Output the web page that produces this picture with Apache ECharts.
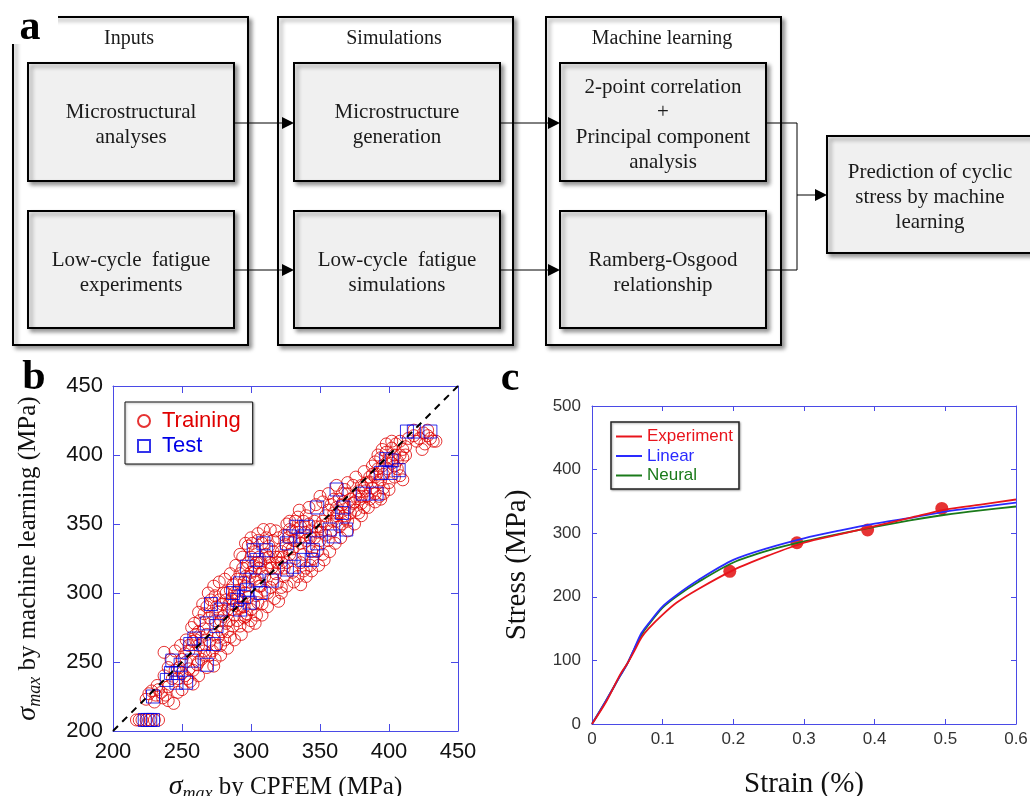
<!DOCTYPE html>
<html>
<head>
<meta charset="utf-8">
<script src="https://cdn.jsdelivr.net/npm/echarts@6/dist/echarts.min.js"></script>
<style>
  html, body { margin: 0; padding: 0; background: #fff; }
  #chart { width: 1030px; height: 796px; }
</style>
</head>
<body>
<div id="chart"></div>
<script>
// ---- panel a: flowchart labels ----
const stageTitles = ["Inputs", "Simulations", "Machine learning"];
const stageBoxes = [
  ["Microstructural\nanalyses", "Low-cycle  fatigue\nexperiments"],
  ["Microstructure\ngeneration", "Low-cycle  fatigue\nsimulations"],
  ["2-point correlation\n+\nPrincipal component\nanalysis", "Ramberg-Osgood\nrelationship"],
];
const outputLabel = "Prediction of cyclic\nstress by machine\nlearning";

// ---- panel b: sigma_max, CPFEM (x) vs machine learning (y) ----
const trainingPts = [
  [217,208],[219,208],[221,208],[224,208],[227,208],[230,208],[233,208],
  [224,223],[226,227],[228,229],[231,226],[233,230],[235,228],[230,221],[236,224],[238,226],[240,222],[244,220],[232,233],[240,232],[237,240],
  [237,257],[242,252],[240,246],[245,244],[248,246],[250,242],[252,240],[254,238],[256,236],[258,234],[243,238],[247,238],[250,252],[252,256],[255,258],[253,250],[258,244],[262,240],[247,228],[250,230],
  [255,262],[258,265],[260,270],[262,272],[264,268],[266,274],[268,270],[270,265],[272,258],[274,252],[270,255],[266,258],[262,262],[260,258],[264,252],[268,246],[261,248],[270,282],[272,285],[274,280],[276,286],[278,280],[280,283],[282,278],[279,272],[276,268],[283,272],[285,268],[266,285],[268,290],[271,295],[274,298],[277,295],[280,300],[282,295],[284,292],[286,288],[288,284],[290,280],[292,276],[295,282],[287,276],[278,262],[281,266],[257,275],[263,280],[260,266],[273,270],[275,262],[284,280],[289,291],[292,289],[296,283],
  [285,302],[287,306],[288,300],[290,310],[292,314],[294,318],[296,312],[298,308],[300,315],[302,320],[304,322],[306,318],[308,315],[310,325],[300,326],[298,322],[303,330],[305,338],[308,336],[311,340],[313,334],[316,330],[318,326],[314,322],[312,318],[310,312],[306,305],[304,298],[302,292],[300,288],[297,285],[295,290],[293,295],[291,298],[300,280],[304,284],[308,292],[312,300],[314,304],[316,310],[318,314],[320,318],[322,322],[296,300],[305,293],[307,305],[310,302],[282,300],[286,296],[319,307],[320,294],[322,304],[324,312],[294,326],[298,334],[301,336],[296,305],[316,338],[313,326],[303,310],[298,297],[306,326],
  [322,330],[325,335],[327,340],[330,345],[332,352],[334,355],[336,348],[338,352],[340,356],[342,350],[344,345],[346,340],[348,344],[350,348],[352,352],[354,356],[356,360],[358,364],[360,368],[347,364],[352,366],[348,330],[345,325],[343,320],[340,318],[336,322],[332,325],[328,328],[326,322],[324,318],[330,315],[334,312],[338,316],[344,330],[350,338],[354,342],[358,345],[336,336],[340,338],[332,338],[328,346],[326,350],[362,352],[364,348],[366,350],[368,354],[356,338],[352,328],[330,332],[338,328],[342,334],[346,352],[360,358],[334,344],[320,326],
  [362,362],[364,368],[366,372],[368,375],[370,372],[372,368],[374,365],[376,370],[378,374],[380,378],[382,376],[384,380],[386,384],[388,386],[390,384],[392,380],[388,376],[384,370],[380,365],[376,360],[372,358],[368,356],[370,352],[378,358],[382,362],[386,368],[390,372],[393,370],[396,376],[394,382],[392,390],[390,395],[392,400],[395,404],[398,402],[400,396],[402,394],[404,392],[406,390],[408,385],[410,382],[404,384],[400,380],[396,386],[366,364],[362,356],[374,378],[380,370],[394,368],
  [402,405],[405,408],[408,400],[410,398],[412,400],[410,404],[406,396],[414,412],[418,414],[422,412],[425,416],[428,414],[430,412],[432,410],[434,410],[426,408],[420,410],[424,404],[428,418],[418,418],[412,406],[404,400],[408,410],
  [245,258],[249,262],[253,266],[259,278],[262,286],[265,292],[269,300],[273,305],[277,308],[281,310],[285,314],[289,320],[292,328],[296,336],[300,340],[305,343],[309,346],[314,346],[320,340],
  [255,245],[262,250],[267,255],[273,247],[278,255],[283,260],[288,266],[293,270],[298,276],[303,278],[308,284],[312,290],[317,296],[322,300],[326,305],[331,308],[336,306],[340,312],[344,316],[349,320],[353,324],[357,330],[361,336],[365,340],[370,345],[375,350],[380,356],[385,362],[390,366],[396,372],[400,375],
  [275,290],[279,292],[283,288],[287,292],[291,302],[295,308],[299,312],[303,316],[307,322],[311,328],[315,318],[319,322],[323,326],[327,332],[331,338],[335,340],[339,344],[343,340],[347,348],[351,344],[355,350],[359,352],[363,358],[367,366],[371,362],[375,366],[379,368],[383,374],[387,380],[391,386],[395,392],[399,390],[403,397],
  [318,345],[324,342],[328,352],[335,360],[342,362],[350,370],[356,372],[362,378],[370,380],[376,384],[382,388],[388,392],[394,398],[398,408],[402,410],
];
const testPts = [
  [223,208],[225,208],[227,208],[229,208],
  [229,225],
  [239,237],[246,235],[253,235],[242,242],[247,242],[243,251],[249,248],
  [256,263],[259,267],[257,251],[268,248],[266,263],[273,263],[268,278],[275,276],[271,292],[278,288],
  [287,300],[292,288],[299,293],[290,295],[295,297],[297,302],[292,307],[307,300],[297,319],[304,309],[315,309],
  [302,331],[304,324],[309,336],[311,331],
  [326,317],[331,319],[338,324],[344,324],[345,331],[326,336],[328,341],[338,341],[333,348],[340,348],[348,336],[348,362],
  [357,346],[360,341],[369,346],[366,358],[367,362],[362,375],
  [381,372],[391,372],[394,387],[401,387],[407,389],[398,397],[402,396],
  [413,417],[418,417],[430,417],
];
const parityRange = [200, 450];
const bTicks = { min: 200, max: 450, step: 50 };

// ---- panel c: stress-strain curves ----
const strain = [0, 0.02, 0.04, 0.05, 0.06, 0.07, 0.08, 0.1, 0.12, 0.15, 0.2, 0.25, 0.3, 0.35, 0.4, 0.45, 0.5, 0.55, 0.6];
const experimentStress = [0, 35, 78, 95, 115, 136, 150, 172, 191, 212, 242, 265, 285, 298, 311, 324, 337, 345, 353];
const linearStress =     [0, 37, 76, 95, 119, 143, 158, 185, 203, 226, 258, 277, 292, 304, 315, 324, 334, 341, 348];
const neuralStress =     [0, 37, 76, 95, 118, 140, 156, 183, 201, 223, 254, 273, 287, 299, 310, 320, 329, 336, 342];
const measuredPts = [[0.195, 240], [0.29, 285], [0.39, 305], [0.495, 339]];

const serif = "'Liberation Serif', 'Times New Roman', serif";
const sans = "'Liberation Sans', Arial, sans-serif";
const frameBlue = "#4a4ae6";
const red = "#e00000";
const blue = "#0000e6";
const expColor = "#e8141c";
const linColor = "#2a2aff";
const neuColor = "#1a7a1a";
const lineIcon = "path://M0,0H26V2H0Z";

function shadowed(fill) {
  return {
    fill: fill, stroke: "#000", lineWidth: 2,
    shadowBlur: 4, shadowOffsetX: 3, shadowOffsetY: 3, shadowColor: "rgba(0,0,0,0.4)",
  };
}

function label(text, x, y, size, extra) {
  return {
    type: "text", x: x, y: y,
    style: Object.assign({
      text: text, fontSize: size, fontFamily: serif, fill: "#1a1a1a",
      align: "center", verticalAlign: "middle", textAlign: "center", textVerticalAlign: "middle",
      lineHeight: 25,
    }, extra || {}),
  };
}

function arrowHead(x, y) {
  return { type: "polygon", shape: { points: [[x - 12, y - 6], [x, y], [x - 12, y + 6]] }, style: { fill: "#000" } };
}

function link(x1, y1, x2, y2) {
  return { type: "line", shape: { x1: x1, y1: y1, x2: x2, y2: y2 }, style: { stroke: "#000", lineWidth: 1 } };
}

function buildFlowchart() {
  const els = [];
  const stageLeft = [13, 278, 546];
  const innerLeft = [28, 294, 560];
  const rowTop = [63, 211];
  const rowH = [118, 117];
  const rowMid = [123, 270];
  stageTitles.forEach((title, i) => {
    els.push({ type: "rect", shape: { x: stageLeft[i], y: 17, width: 235, height: 328 }, style: shadowed("#fff") });
    els.push(label(title, stageLeft[i] + 116, 39, 20));
    stageBoxes[i].forEach((txt, j) => {
      els.push({ type: "rect", shape: { x: innerLeft[i], y: rowTop[j], width: 206, height: rowH[j] }, style: shadowed("#f0f0f0") });
      els.push(label(txt, innerLeft[i] + 103, rowTop[j] + rowH[j] / 2 + 3, 21));
    });
  });
  // arrows between stages
  for (let i = 0; i < 2; i++) {
    rowMid.forEach((y) => {
      els.push(link(innerLeft[i] + 206, y, innerLeft[i + 1] - 6, y));
      els.push(arrowHead(innerLeft[i + 1], y));
    });
  }
  // merge into output box
  els.push(link(767, 123, 797, 123));
  els.push(link(767, 270, 797, 270));
  els.push(link(797, 123, 797, 270));
  els.push(link(797, 195, 821, 195));
  els.push(arrowHead(827, 195));
  els.push({ type: "rect", shape: { x: 827, y: 136, width: 220, height: 117 }, style: shadowed("#f0f0f0") });
  els.push(label(outputLabel, 930, 197, 21));
  // panel letters
  els.push({ type: "rect", shape: { x: 0, y: 0, width: 58, height: 44 }, style: { fill: "#fff" } });
  els.push(label("a", 30, 28, 42, { fontWeight: "bold", fill: "#000" }));
  els.push(label("b", 34, 378, 42, { fontWeight: "bold", fill: "#000" }));
  els.push(label("c", 510, 379, 42, { fontWeight: "bold", fill: "#000" }));
  return els;
}

const sigmaRich = {
  s: { fontFamily: serif, fontStyle: "italic", fontSize: 28, lineHeight: 32, verticalAlign: "middle", color: "#111" },
  m: { fontFamily: serif, fontStyle: "italic", fontSize: 18, lineHeight: 15, verticalAlign: "bottom", color: "#111" },
  t: { fontFamily: serif, fontSize: 25, lineHeight: 32, verticalAlign: "middle", color: "#111" },
};

function frameAxis(gridIndex, position, range, tickLen, labelStyle) {
  return {
    type: "value", gridIndex: gridIndex, position: position,
    min: range.min, max: range.max, interval: range.step,
    axisLine: { show: true, onZero: false, lineStyle: { color: frameBlue, width: 1 } },
    axisTick: { show: true, inside: true, length: tickLen, lineStyle: { color: frameBlue } },
    splitLine: { show: false },
    axisLabel: labelStyle ? labelStyle : { show: false },
  };
}

const bLabel = { color: "#111", fontSize: 22, fontFamily: sans, margin: 10 };
const cLabelY = { color: "#333", fontSize: 17, fontFamily: sans, margin: 11 };
const cLabelX = { color: "#333", fontSize: 17, fontFamily: sans, margin: 7,
  formatter: (v) => (v === 0 ? "0" : v.toFixed(1)) };
const cX = { min: 0, max: 0.6, step: 0.1 };
const cY = { min: 0, max: 500, step: 100 };

const chart = echarts.init(document.getElementById("chart"));

chart.setOption({
  animation: false,
  backgroundColor: "#fff",
  graphic: { elements: buildFlowchart() },
  grid: [
    { left: 113, top: 386, width: 345, height: 345, outerBoundsMode: "none", containLabel: false },
    { left: 592, top: 406, width: 424, height: 318, outerBoundsMode: "none", containLabel: false },
  ],
  xAxis: [
    Object.assign(frameAxis(0, "bottom", bTicks, 7, bLabel), {
      name: "{s|σ}{m|max}{t| by CPFEM (MPa)}", nameLocation: "middle", nameGap: 40,
      nameTextStyle: { rich: sigmaRich },
    }),
    frameAxis(0, "top", bTicks, 7),
    Object.assign(frameAxis(1, "bottom", cX, 5, cLabelX), {
      name: "Strain (%)", nameLocation: "middle", nameGap: 44,
      nameTextStyle: { fontFamily: serif, fontSize: 29, color: "#111", lineHeight: 32 },
    }),
    frameAxis(1, "top", cX, 5),
  ],
  yAxis: [
    Object.assign(frameAxis(0, "left", bTicks, 7, bLabel), {
      name: "{s|σ}{m|max}{t| by machine learning (MPa)}", nameLocation: "middle", nameRotate: 90, nameGap: 69,
      nameTextStyle: { rich: sigmaRich },
    }),
    frameAxis(0, "right", bTicks, 7),
    Object.assign(frameAxis(1, "left", cY, 5, cLabelY), {
      name: "Stress (MPa)", nameLocation: "middle", nameRotate: 90, nameGap: 59,
      nameTextStyle: { fontFamily: serif, fontSize: 29, color: "#111", lineHeight: 32 },
    }),
    frameAxis(1, "right", cY, 5),
  ],
  legend: [
    {
      data: [
        { name: "Training", icon: "circle", textStyle: { color: red } },
        { name: "Test", icon: "path://M0,0H12V12H0Z", textStyle: { color: blue } },
      ],
      left: 125, top: 402, orient: "vertical",
      itemWidth: 26, itemHeight: 12, itemGap: 3,
      padding: [8, 12, 7, 12],
      borderColor: "#111", borderWidth: 1, backgroundColor: "#fff",
      shadowColor: "rgba(0,0,0,0.3)", shadowBlur: 2, shadowOffsetX: 1, shadowOffsetY: 1,
      textStyle: { fontSize: 22, fontFamily: sans },
      selectedMode: false,
    },
    {
      data: [
        { name: "Experiment", icon: lineIcon, textStyle: { color: expColor } },
        { name: "Linear", icon: lineIcon, textStyle: { color: linColor } },
        { name: "Neural", icon: lineIcon, textStyle: { color: neuColor } },
      ],
      left: 611, top: 422, orient: "vertical",
      itemWidth: 26, itemHeight: 12, itemGap: 2.5,
      padding: [6, 6, 5, 5],
      borderColor: "#222", borderWidth: 1.5, backgroundColor: "#fff",
      shadowColor: "rgba(0,0,0,0.3)", shadowBlur: 2, shadowOffsetX: 1, shadowOffsetY: 1,
      textStyle: { fontSize: 17, fontFamily: sans },
      selectedMode: false,
    },
  ],
  series: [
    {
      name: "Training", type: "scatter", xAxisIndex: 0, yAxisIndex: 0,
      data: trainingPts, symbol: "circle", symbolSize: 12,
      itemStyle: { color: "rgba(255,255,255,0)", borderColor: red, borderWidth: 1 },
    },
    {
      name: "Test", type: "scatter", xAxisIndex: 0, yAxisIndex: 0,
      data: testPts, symbol: "rect", symbolSize: 13,
      itemStyle: { color: "rgba(255,255,255,0)", borderColor: blue, borderWidth: 1 },
    },
    {
      name: "Parity", type: "line", xAxisIndex: 0, yAxisIndex: 0,
      data: [[parityRange[0], parityRange[0]], [parityRange[1], parityRange[1]]],
      symbol: "none", silent: true, z: 5,
      lineStyle: { color: "#000", width: 2, type: [7, 6] },
    },
    {
      name: "Neural", type: "line", xAxisIndex: 2, yAxisIndex: 2,
      data: strain.map((s, i) => [s, neuralStress[i]]),
      symbol: "none", smooth: 0.3,
      itemStyle: { color: neuColor }, lineStyle: { color: neuColor, width: 1.8 },
    },
    {
      name: "Linear", type: "line", xAxisIndex: 2, yAxisIndex: 2,
      data: strain.map((s, i) => [s, linearStress[i]]),
      symbol: "none", smooth: 0.3,
      itemStyle: { color: linColor }, lineStyle: { color: linColor, width: 1.8 },
    },
    {
      name: "Experiment", type: "line", xAxisIndex: 2, yAxisIndex: 2,
      data: strain.map((s, i) => [s, experimentStress[i]]),
      symbol: "none", smooth: 0.3,
      itemStyle: { color: expColor }, lineStyle: { color: expColor, width: 1.8 },
    },
    {
      name: "Measured", type: "scatter", xAxisIndex: 2, yAxisIndex: 2,
      data: measuredPts, symbol: "circle", symbolSize: 13,
      itemStyle: { color: "#e00000" },
    },
  ],
});
</script>
</body>
</html>
